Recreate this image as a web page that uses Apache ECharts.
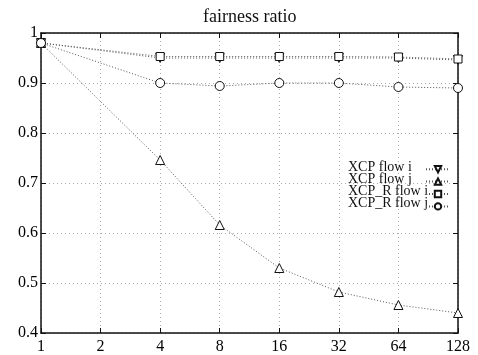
<!DOCTYPE html>
<html>
<head>
<meta charset="utf-8">
<script src="https://cdn.jsdelivr.net/npm/echarts@6/dist/echarts.min.js"></script>
<style>
  html, body { margin: 0; padding: 0; background: #fff; }
  #chart { width: 478px; height: 355px; }
</style>
</head>
<body>
<div id="chart"></div>
<script>
const categories = ['1', '2', '4', '8', '16', '32', '64', '128'];
const seriesNames = ['XCP flow i', 'XCP flow j', 'XCP_R flow i', 'XCP_R flow j'];
const xcpFlowI = [0.98, null, 0.95, 0.95, 0.95, 0.95, 0.95, 0.946];
const xcpFlowJ = [0.98, null, 0.746, 0.616, 0.53, 0.482, 0.456, 0.44];
const xcprFlowI = [0.98, null, 0.953, 0.953, 0.953, 0.953, 0.952, 0.948];
const xcprFlowJ = [0.98, null, 0.90, 0.894, 0.90, 0.90, 0.892, 0.89];

const font = 'Liberation Serif';
const chart = echarts.init(document.getElementById('chart'));

function mkSeries(name, data, symbol, rotate) {
  return {
    name: name,
    type: 'line',
    data: data,
    connectNulls: true,
    symbol: symbol,
    symbolRotate: rotate || 0,
    symbolSize: symbol === 'rect' ? 8 : 9,
    showSymbol: true,
    lineStyle: { color: '#555', width: 1, type: [1, 2] },
    itemStyle: { color: '#fff', borderColor: '#111', borderWidth: 1 },
    emphasis: { disabled: true }
  };
}

const axisLine = { show: true, lineStyle: { color: '#111', width: 1.5 } };
const axisTick = { show: true, inside: true, length: 5, lineStyle: { color: '#111' } };
const gridLine = { show: true, lineStyle: { color: '#aaa', type: [1, 3] } };

const option = {
  animation: false,
  backgroundColor: '#fff',
  title: {
    text: 'fairness ratio',
    left: 198,
    top: 3,
    textStyle: { fontFamily: font, fontSize: 18, fontWeight: 'normal', color: '#111' }
  },
  legend: [
    {
      // names only
      orient: 'vertical',
      left: 337,
      top: 155,
      align: 'left',
      itemGap: -2,
      itemWidth: 0,
      itemHeight: 12,
      icon: 'rect',
      itemStyle: { opacity: 0 },
      lineStyle: { opacity: 0 },
      selectedMode: false,
      textStyle: { fontFamily: font, fontSize: 14, color: '#111', lineHeight: 12 },
      data: seriesNames
    },
    {
      // symbols only
      orient: 'vertical',
      left: 420,
      top: 160,
      align: 'left',
      itemGap: 4,
      itemWidth: 24,
      itemHeight: 8,
      selectedMode: false,
      formatter: () => '',
      textStyle: { fontSize: 8, lineHeight: 8 },
      data: seriesNames
    }
  ],
  grid: { left: 41, right: 20, top: 33, bottom: 22 },
  xAxis: [
    {
      type: 'category',
      data: categories,
      boundaryGap: false,
      axisLine: axisLine,
      axisTick: axisTick,
      axisLabel: { fontFamily: font, fontSize: 16, color: '#000', margin: 6 },
      splitLine: gridLine
    },
    {
      type: 'category',
      data: categories,
      boundaryGap: false,
      position: 'top',
      axisLine: axisLine,
      axisTick: axisTick,
      axisLabel: { show: false }
    }
  ],
  yAxis: [
    {
      type: 'value',
      min: 0.4,
      max: 1.0,
      interval: 0.1,
      axisLine: axisLine,
      axisTick: axisTick,
      axisLabel: {
        fontFamily: font, fontSize: 16, color: '#000', margin: 3,
        formatter: v => (Math.abs(v - 1) < 1e-9 ? '1' : v.toFixed(1))
      },
      splitLine: gridLine
    },
    {
      type: 'value',
      min: 0.4,
      max: 1.0,
      interval: 0.1,
      position: 'right',
      axisLine: axisLine,
      axisTick: axisTick,
      axisLabel: { show: false },
      splitLine: { show: false }
    }
  ],
  series: [
    mkSeries(seriesNames[0], xcpFlowI, 'triangle', 180),
    mkSeries(seriesNames[1], xcpFlowJ, 'triangle'),
    mkSeries(seriesNames[2], xcprFlowI, 'rect'),
    mkSeries(seriesNames[3], xcprFlowJ, 'circle')
  ]
};

chart.setOption(option);
</script>
</body>
</html>
